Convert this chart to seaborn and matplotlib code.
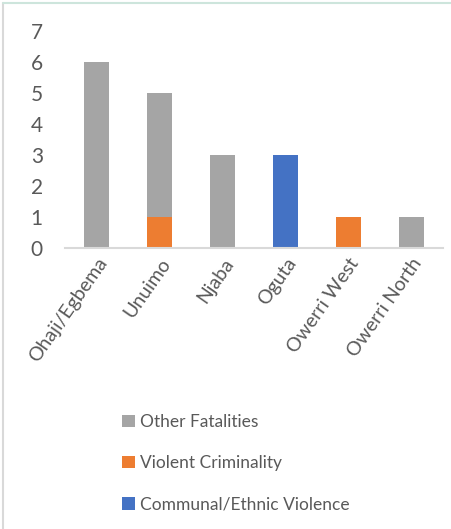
import pandas as pd
import seaborn as sns
import matplotlib.pyplot as plt
from matplotlib.patches import Patch
from matplotlib.lines import Line2D

# data
districts = ["Ohaji/Egbema", "Unuimo", "Njaba", "Oguta", "Owerri West", "Owerri North"]
communal = [0, 0, 0, 3, 0, 0]
violent = [0, 1, 0, 0, 1, 0]
other = [6, 4, 3, 0, 0, 1]

series_names = ["Other Fatalities", "Violent Criminality", "Communal/Ethnic Violence"]
colors = {"Other Fatalities": "#A5A5A5",
          "Violent Criminality": "#ED7D31",
          "Communal/Ethnic Violence": "#4472C4"}

df = pd.DataFrame({"District": districts, "Communal": communal,
                   "Violent": violent, "Other": other})

sns.set_style("white")
plt.rcParams["font.family"] = ["Lato", "DejaVu Sans"]
text_col = "#595959"

fig = plt.figure(figsize=(4.52, 5.29), dpi=100)
ax = fig.add_axes([0.144, 0.531, 0.836, 0.41])

# stack from the bottom: communal, violent, other
base = [0] * len(districts)
for col, name in [("Communal", "Communal/Ethnic Violence"),
                  ("Violent", "Violent Criminality"),
                  ("Other", "Other Fatalities")]:
    sns.barplot(data=df, x="District", y=col, bottom=base, color=colors[name],
                width=0.41, linewidth=0, saturation=1, ax=ax)
    base = [b + v for b, v in zip(base, df[col])]

ax.set_ylim(0, 7)
ax.set_xlim(-0.5, 5.5)
ax.set_yticks(range(0, 8))
ax.set_xlabel("")
ax.set_ylabel("")
ax.tick_params(axis="y", labelsize=15, labelcolor=text_col, length=0, pad=16)
ax.tick_params(axis="x", labelsize=14, labelcolor=text_col, length=0, pad=5)
for lbl in ax.get_xticklabels():
    lbl.set_rotation(55)
    lbl.set_ha("right")
    lbl.set_rotation_mode("anchor")

for s in ["top", "right", "left"]:
    ax.spines[s].set_visible(False)
ax.spines["bottom"].set_color("#D9D9D9")
ax.spines["bottom"].set_linewidth(1.5)

handles = [Patch(facecolor=colors[n], edgecolor="none") for n in series_names]
fig.legend(handles, series_names, loc="upper left", bbox_to_anchor=(0.235, 0.247),
           frameon=False, fontsize=12.5, labelcolor=text_col,
           handlelength=0.75, handleheight=0.75, handletextpad=0.3,
           labelspacing=1.45)

# thin frame around the picture
fig.add_artist(Line2D([0.007, 0.007], [0, 0.995], transform=fig.transFigure,
                      color="#D9D9D9", lw=1.5))
fig.add_artist(Line2D([0.007, 1], [0.995, 0.995], transform=fig.transFigure,
                      color="#CDE5DC", lw=1.5))

fig.savefig("out.png", dpi=100)
